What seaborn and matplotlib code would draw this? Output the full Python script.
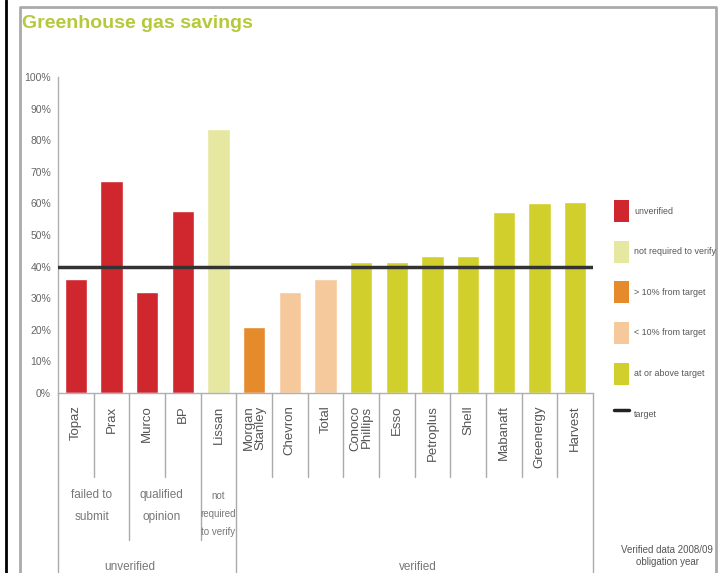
import matplotlib
matplotlib.use('Agg')
import matplotlib.pyplot as plt
import seaborn as sns
import pandas as pd
from matplotlib.patches import Patch
from matplotlib.lines import Line2D

# ---- data ----
companies = ['Topaz', 'Prax', 'Murco', 'BP', 'Lissan', 'Morgan\nStanley', 'Chevron',
             'Total', 'Conoco\nPhillips', 'Esso', 'Petroplus', 'Shell', 'Mabanaft',
             'Greenergy', 'Harvest']
savings = [36, 67, 32, 57.5, 83.5, 21, 32, 36, 41.5, 41.5, 43.2, 43.2, 57.2, 60, 60.5]
status = ['unverified', 'unverified', 'unverified', 'unverified',
          'not required to verify', '> 10% from target', '< 10% from target',
          '< 10% from target', 'at or above target', 'at or above target',
          'at or above target', 'at or above target', 'at or above target',
          'at or above target', 'at or above target']
status_labels = ['unverified', 'not required to verify', '> 10% from target',
                 '< 10% from target', 'at or above target']
status_colors = ['#d0262e', '#e6e7a0', '#e58b2c', '#f6c99c', '#d1cf2b']
target = 40
target_label = 'target'
yticks = [0, 10, 20, 30, 40, 50, 60, 70, 80, 90, 100]
ytick_labels = [f'{v}%' for v in yticks]
title = 'Greenhouse gas savings'
note = 'Verified data 2008/09\nobligation year'
group2 = ['failed to\nsubmit', 'qualified\nopinion', 'not\nrequired\nto verify']
group1 = ['unverified', 'verified']

df = pd.DataFrame({'company': companies, 'saving': savings, 'status': status})

sns.set_theme(style='white')
plt.rcParams['font.family'] = ['Liberation Sans', 'DejaVu Sans']

W, H = 720, 573
fig = plt.figure(figsize=(W / 100, H / 100), dpi=100)
ax = fig.add_axes([58 / W, 1 - 393 / H, (593 - 58) / W, (393 - 77) / H])

palette = dict(zip(status_labels, status_colors))
sns.barplot(data=df, x='company', y='saving', hue='status', palette=palette,
            dodge=False, width=0.62, legend=False, saturation=1, ax=ax,
            order=companies)

ax.set_xlim(-0.5, len(companies) - 0.5)
ax.set_ylim(0, 100)
ax.set_xlabel('')
ax.set_ylabel('')

ax.axhline(target, color='#333333', lw=2.5, zorder=5)

ax.set_yticks(yticks)
ax.set_yticklabels(ytick_labels, fontsize=7.5, color='#666666')
ax.set_xticks(range(len(companies)))
ax.set_xticklabels(companies, rotation=90, fontsize=9.5, color='#555555',
                   linespacing=0.95)
for t in ax.get_xticklabels():
    t.set_multialignment('right')
ax.tick_params(axis='y', length=0, pad=5)
ax.tick_params(axis='x', length=0, pad=9)

for s in ['top', 'right']:
    ax.spines[s].set_visible(False)
for s in ['left', 'bottom']:
    ax.spines[s].set_color('#b0b0b0')
    ax.spines[s].set_linewidth(1)

# separators below the axis
trans = ax.get_xaxis_transform()
def fy(ypix):
    return (393 - ypix) / 316.0

sep_short = [0.5, 2.5, 5.5, 6.5, 7.5, 8.5, 9.5, 10.5, 11.5, 12.5, 13.5]
sep_mid = [1.5, 3.5]
sep_full = [-0.5, 4.5, 14.5]
for b in sep_short:
    ax.plot([b, b], [0, fy(477)], transform=trans, clip_on=False, color='#aaaaaa', lw=1)
for b in sep_mid:
    ax.plot([b, b], [0, fy(540)], transform=trans, clip_on=False, color='#aaaaaa', lw=1)
for b in sep_full:
    ax.plot([b, b], [0, fy(585)], transform=trans, clip_on=False, color='#aaaaaa', lw=1)

gtxt = dict(transform=trans, ha='center', va='top', fontsize=8.5, color='#777777')
ax.text(0.45, fy(489), group2[0], linespacing=2.1, **gtxt)
ax.text(2.4, fy(489), group2[1], linespacing=2.1, **gtxt)
ax.text(3.98, fy(491), group2[2], linespacing=2.0, fontsize=7,
        transform=trans, ha='center', va='top', color='#777777')
ax.text(1.5, fy(561), group1[0], **gtxt)
ax.text(9.6, fy(561), group1[1], **gtxt)

# title
fig.text(22 / W, 1 - 24 / H, title, fontsize=14, fontweight='bold',
         color='#b5c93a', ha='left', va='center')

# note
fig.text(713 / W, 1 - 556 / H, note, fontsize=7, color='#555555',
         ha='right', va='center', multialignment='center', linespacing=1.3)

# legend
handles = [Patch(facecolor=c, edgecolor='none') for c in status_colors]
handles.append(Line2D([0], [0], color='#222222', lw=2.5))
labels = status_labels + [target_label]
fig.legend(handles, labels, loc='upper left', bbox_to_anchor=(614 / W, 1 - 200 / H),
           frameon=False, fontsize=6.4, handlelength=1.69, handleheight=3.43,
           labelspacing=2.1, handletextpad=0.56, borderpad=0, borderaxespad=0,
           labelcolor='#555555')

# frame
fig.add_artist(Line2D([6 / W, 6 / W], [0, 1], transform=fig.transFigure,
                      color='black', lw=2))
fig.add_artist(Line2D([20 / W, 20 / W, 716 / W, 716 / W],
                      [0, 1 - 7 / H, 1 - 7 / H, 0], transform=fig.transFigure,
                      color='#aaaaaa', lw=2))

fig.savefig('out.png', dpi=100)
